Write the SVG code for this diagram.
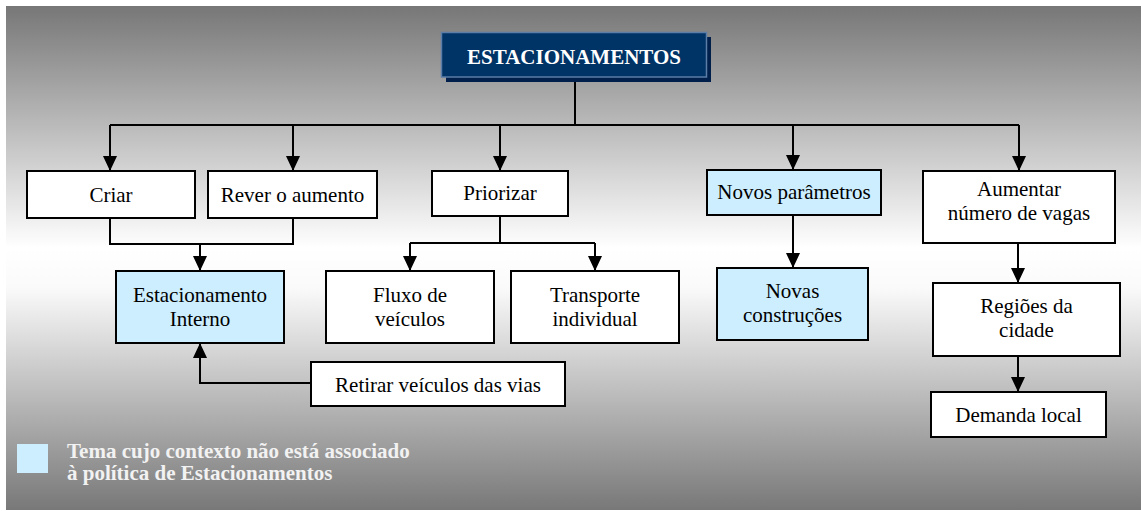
<svg xmlns="http://www.w3.org/2000/svg" width="1141" height="511" viewBox="0 0 1141 511">
<defs>
<linearGradient id="bg" x1="0" y1="0" x2="0" y2="1">
<stop offset="0" stop-color="#777777"/>
<stop offset="0.48" stop-color="#ffffff"/>
<stop offset="0.56" stop-color="#fafafa"/>
<stop offset="1" stop-color="#787878"/>
</linearGradient>
<marker id="ah" viewBox="0 0 15 14" refX="15" refY="7" markerWidth="15" markerHeight="14" orient="auto" markerUnits="userSpaceOnUse">
<path d="M0,0 L15,7 L0,14 z" fill="#000"/>
</marker>
<style>
.box{fill:#ffffff;stroke:#000;stroke-width:2}
.blue{fill:#cceeff;stroke:#000;stroke-width:2}
.t{font-family:"Liberation Serif","Times New Roman",serif;font-size:21px;fill:#000;text-anchor:middle}
.c{fill:none;stroke:#000;stroke-width:2}
.a{fill:none;stroke:#000;stroke-width:2;marker-end:url(#ah)}
.leg{font-family:"Liberation Serif","Times New Roman",serif;font-size:21px;font-weight:bold;fill:#f2f2f2}
</style>
</defs>
<rect x="0" y="0" width="1141" height="511" fill="#ffffff"/>
<rect x="6" y="6" width="1135" height="504" fill="url(#bg)"/>

<g id="connectors">
<path class="c" d="M575,77 V125" stroke-width="2.5"/>
<path class="c" d="M110,125 H1019"/>
<path class="a" d="M110,125 V171"/>
<path class="a" d="M293,125 V171"/>
<path class="a" d="M500,125 V171"/>
<path class="a" d="M793,125 V170"/>
<path class="a" d="M1019,125 V171"/>
<path class="c" d="M110,218 V244 H293 V218"/>
<path class="a" d="M200,244 V271"/>
<path class="c" d="M500,216 V243"/>
<path class="c" d="M410,243 H595"/>
<path class="a" d="M410,243 V271"/>
<path class="a" d="M595,243 V271"/>
<path class="a" d="M793,215 V268"/>
<path class="a" d="M1018,243 V283"/>
<path class="a" d="M1018,356 V392"/>
<path class="a" d="M311,383 H200 V343"/>
</g>

<g id="estacionamentos">
<rect x="446" y="37" width="265" height="45" fill="#001f4a"/>
<rect x="441.5" y="32.5" width="265" height="44.5" fill="#003366" stroke="#5a7ea8" stroke-width="1.5"/>
<text x="574" y="64" font-family="'Liberation Serif','Times New Roman',serif" font-size="21" font-weight="bold" fill="#ffffff" text-anchor="middle">ESTACIONAMENTOS</text>
</g>

<g id="criar">
<rect class="box" x="27" y="171" width="168" height="47"/>
<text class="t" x="111" y="202">Criar</text>
</g>
<g id="rever">
<rect class="box" x="208" y="171" width="169" height="47"/>
<text class="t" x="292.5" y="202">Rever o aumento</text>
</g>
<g id="priorizar">
<rect class="box" x="432" y="171" width="136" height="45"/>
<text class="t" x="500" y="200">Priorizar</text>
</g>
<g id="novos-parametros">
<rect class="blue" x="707" y="170" width="174" height="45"/>
<text class="t" x="794" y="199">Novos parâmetros</text>
</g>
<g id="aumentar">
<rect class="box" x="923" y="171" width="192" height="72"/>
<text class="t" x="1019" y="196">Aumentar</text>
<text class="t" x="1019" y="220">número de vagas</text>
</g>

<g id="estacionamento-interno">
<rect class="blue" x="116" y="271" width="168" height="72"/>
<text class="t" x="200" y="302">Estacionamento</text>
<text class="t" x="200" y="326">Interno</text>
</g>
<g id="fluxo">
<rect class="box" x="326" y="271" width="168" height="72"/>
<text class="t" x="410" y="302">Fluxo de</text>
<text class="t" x="410" y="326">veículos</text>
</g>
<g id="transporte">
<rect class="box" x="511" y="271" width="168" height="72"/>
<text class="t" x="595" y="302">Transporte</text>
<text class="t" x="595" y="326">individual</text>
</g>
<g id="novas-construcoes">
<rect class="blue" x="717" y="268" width="151" height="72"/>
<text class="t" x="792.5" y="298">Novas</text>
<text class="t" x="792.5" y="322">construções</text>
</g>
<g id="regioes">
<rect class="box" x="933" y="283" width="187" height="73"/>
<text class="t" x="1026.5" y="313">Regiões da</text>
<text class="t" x="1026.5" y="337">cidade</text>
</g>
<g id="demanda">
<rect class="box" x="931" y="392" width="175" height="45"/>
<text class="t" x="1018.5" y="422">Demanda local</text>
</g>
<g id="retirar">
<rect class="box" x="311" y="362" width="254" height="44"/>
<text class="t" x="438" y="392">Retirar veículos das vias</text>
</g>

<g id="legend">
<rect x="17" y="444" width="31" height="29" fill="#cceeff"/>
<text class="leg" x="67" y="458">Tema cujo contexto não está associado</text>
<text class="leg" x="67" y="480">à política de Estacionamentos</text>
</g>
</svg>
